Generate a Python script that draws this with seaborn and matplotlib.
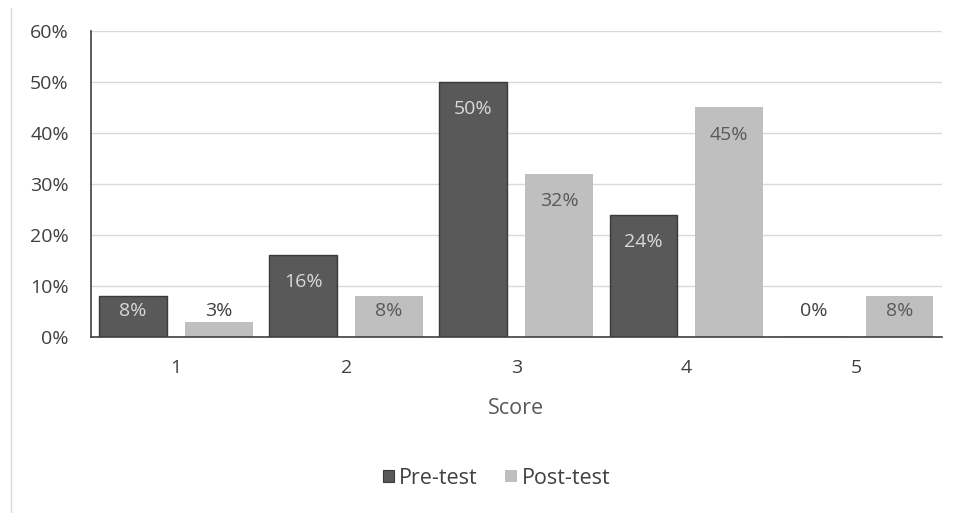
import matplotlib
matplotlib.use("Agg")
import matplotlib.pyplot as plt
from matplotlib.lines import Line2D
from matplotlib.patches import Patch
import seaborn as sns
import pandas as pd

# Score distribution before and after the intervention
scores = ["1", "2", "3", "4", "5"]
pre_test = [8, 16, 50, 24, 0]
post_test = [3, 8, 32, 45, 8]
series = ["Pre-test", "Post-test"]
y_ticks = [0, 10, 20, 30, 40, 50, 60]

df = pd.DataFrame({
    "Score": scores * 2,
    "Percent": pre_test + post_test,
    "Test": [series[0]] * len(scores) + [series[1]] * len(scores),
})

sns.set_theme(style="white")
plt.rcParams["font.family"] = ["Open Sans", "DejaVu Sans"]

PRE_COLOR = "#595959"
POST_COLOR = "#BFBFBF"
TEXT_COLOR = "#595959"
FS = 14
FS_BIG = 15.5

fig = plt.figure(figsize=(9.6, 5.13), dpi=100)
ax = fig.add_axes([0.0948, 0.343, 0.886, 0.5966])

sns.barplot(data=df, x="Score", y="Percent", hue="Test",
            palette=[PRE_COLOR, POST_COLOR], width=1.01, gap=0.21,
            saturation=1, ax=ax, legend=False)

# outline only on the pre-test bars
for bar in ax.containers[0]:
    bar.set_edgecolor("#3a3a3a")
    bar.set_linewidth(1.0)
for bar in ax.containers[1]:
    bar.set_linewidth(0)

# value labels near the inside top of each bar; short bars push the label up
label_colors = ["#D9D9D9", "#595959"]
for cont, vals, lc in zip(ax.containers, [pre_test, post_test], label_colors):
    for bar, v in zip(cont, vals):
        cx = bar.get_x() + bar.get_width() / 2
        y = max(v - 5.3, 5.1)
        col = lc if v >= 5 else "#404040"
        ax.text(cx, y, f"{v}%", ha="center", va="center",
                fontsize=FS, color=col)

ax.set_ylim(0, 60)
ax.set_xlim(-0.5, 4.5)
ax.set_yticks(y_ticks)
ax.set_yticklabels([f"{t}%" for t in y_ticks])
ax.yaxis.grid(True, color="#D9D9D9", linewidth=1.0)
ax.set_axisbelow(True)
ax.tick_params(axis="both", length=0, labelsize=FS, colors="#404040")
ax.tick_params(axis="x", pad=16)
ax.tick_params(axis="y", pad=16)

for side in ["top", "right"]:
    ax.spines[side].set_visible(False)
for side in ["left", "bottom"]:
    ax.spines[side].set_color("#404040")
    ax.spines[side].set_linewidth(1.2)

ax.set_xlabel("Score", fontsize=FS_BIG, color=TEXT_COLOR, labelpad=15)
ax.set_ylabel("")

handles = [Patch(facecolor=PRE_COLOR, edgecolor="#3a3a3a", linewidth=0.8),
           Patch(facecolor=POST_COLOR, edgecolor="none")]
fig.legend(handles, series, loc="center", bbox_to_anchor=(0.517, 0.068),
           ncol=2, frameon=False, fontsize=FS_BIG, handlelength=0.55,
           handleheight=0.55, handletextpad=0.2, columnspacing=1.3,
           labelcolor="#404040")

# thin chart-area border on the left edge
fig.add_artist(Line2D([11 / 960, 11 / 960], [0.0, 0.985],
                      color="#D9D9D9", linewidth=1.0))

fig.savefig("out.png", dpi=100)
